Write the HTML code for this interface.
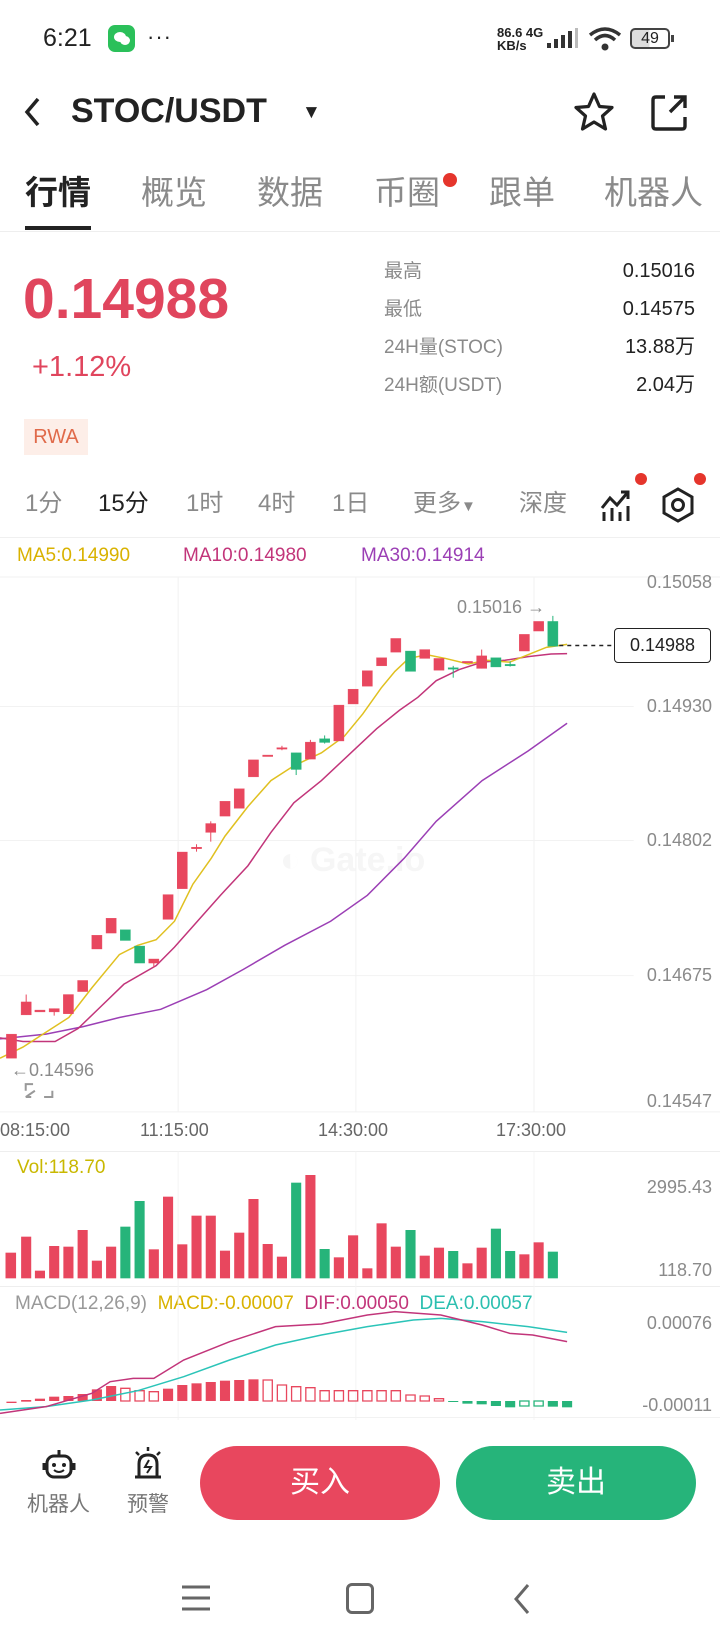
<!DOCTYPE html>
<html><head><meta charset="utf-8"><style>
*{margin:0;padding:0;box-sizing:border-box}
body{width:720px;height:1640px;background:#fff;position:relative;overflow:hidden;font-family:"Liberation Sans","Noto Sans CJK SC",sans-serif;color:#222}
.a{position:absolute;white-space:nowrap;line-height:1}
.g{color:#8a8a8a}
.yl{font-size:18px;color:#8a8a8a;right:8px;transform:translateY(-50%)}
</style></head><body>
<!-- status bar -->
<div class="a" style="left:43px;top:26px;font-size:25px;color:#222">6:21</div>
<div class="a" style="left:108px;top:25px;width:27px;height:27px;background:#2bc05a;border-radius:7px"></div>
<div class="a" style="left:114px;top:32px;width:12px;height:10px;background:#fff;border-radius:50%"></div>
<div class="a" style="left:120px;top:36px;width:10px;height:9px;background:#fff;border-radius:50%"></div>
<div class="a" style="left:147px;top:26px;font-size:22px;letter-spacing:1px">···</div>
<div class="a" style="left:497px;top:26px;font-size:13px;font-weight:bold;line-height:13px">86.6 4G<br>KB/s</div>
<svg class="a" style="left:545px;top:28px" width="36" height="22"><rect x="2" y="15" width="4" height="5" fill="#333"/><rect x="9" y="11" width="4" height="9" fill="#333"/><rect x="16" y="7" width="4" height="13" fill="#333"/><rect x="23" y="3" width="4" height="17" fill="#333"/><rect x="30" y="0" width="3" height="20" fill="#bbb"/></svg>
<svg class="a" style="left:588px;top:26px" width="34" height="26"><path d="M2 9 Q17 -3 32 9" stroke="#333" stroke-width="3.5" fill="none"/><path d="M7 14 Q17 5 27 14" stroke="#333" stroke-width="3.5" fill="none"/><circle cx="17" cy="21" r="3.5" fill="#333"/></svg>
<div class="a" style="left:630px;top:28px;width:40px;height:21px;border:2px solid #444;border-radius:5px;font-size:16px;text-align:center;line-height:17px;background:linear-gradient(90deg,#ddd 49%,#fff 49%)">49</div>
<div class="a" style="left:671px;top:35px;width:3px;height:7px;background:#444"></div>
<!-- header -->
<svg class="a" style="left:22px;top:96px" width="22" height="32"><path d="M16 3 L5 16 L16 29" stroke="#222" stroke-width="3.5" fill="none"/></svg>
<div class="a" style="left:71px;top:94px;font-size:34px;font-weight:bold">STOC/USDT</div>
<div class="a" style="left:302px;top:103px;font-size:19px">▼</div>
<svg class="a" style="left:572px;top:91px" width="44" height="42"><path d="M22 3 L27.5 15.5 L40 16.5 L30.5 25 L33.5 38 L22 31 L10.5 38 L13.5 25 L4 16.5 L16.5 15.5 Z" stroke="#222" stroke-width="3.2" fill="none" stroke-linejoin="round"/></svg>
<svg class="a" style="left:648px;top:92px" width="42" height="42"><path d="M17 5 H8 Q5 5 5 8 V34 Q5 37 8 37 H34 Q37 37 37 34 V25" stroke="#222" stroke-width="3.4" fill="none"/><path d="M22 20 L36 6 M26 5 H37 V16" stroke="#222" stroke-width="3.4" fill="none"/></svg>
<!-- tabs -->
<div class="a" style="left:25px;top:176px;font-size:33px;font-weight:bold;color:#222">行情</div>
<div class="a g" style="left:141px;top:176px;font-size:33px">概览</div>
<div class="a g" style="left:257px;top:176px;font-size:33px">数据</div>
<div class="a g" style="left:374px;top:176px;font-size:33px">币圈</div>
<div class="a" style="left:443px;top:173px;width:14px;height:14px;border-radius:50%;background:#e5352c"></div>
<div class="a g" style="left:489px;top:176px;font-size:33px">跟单</div>
<div class="a g" style="left:604px;top:176px;font-size:33px">机器人</div>
<div class="a" style="left:25px;top:226px;width:66px;height:4px;background:#222"></div>
<div class="a" style="left:0;top:231px;width:720px;height:1px;background:#eee"></div>
<!-- price -->
<div class="a" style="left:23px;top:271px;font-size:57px;font-weight:bold;color:#e0455d">0.14988</div>
<div class="a" style="left:32px;top:353px;font-size:29px;color:#e0455d">+1.12%</div>
<div class="a" style="left:24px;top:419px;width:64px;height:36px;background:#fdeee8;color:#e06a4a;font-size:20px;text-align:center;line-height:36px">RWA</div>
<div class="a g" style="left:384px;top:262px;font-size:19px">最高</div>
<div class="a g" style="left:384px;top:300px;font-size:19px">最低</div>
<div class="a g" style="left:384px;top:338px;font-size:19px">24H量(STOC)</div>
<div class="a g" style="left:384px;top:376px;font-size:19px">24H额(USDT)</div>
<div class="a" style="right:25px;top:261px;font-size:20px">0.15016</div>
<div class="a" style="right:25px;top:299px;font-size:20px">0.14575</div>
<div class="a" style="right:25px;top:337px;font-size:20px">13.88万</div>
<div class="a" style="right:25px;top:375px;font-size:20px">2.04万</div>
<!-- interval row -->
<div class="a g" style="left:25px;top:492px;font-size:24px">1分</div>
<div class="a" style="left:98px;top:492px;font-size:24px;color:#222">15分</div>
<div class="a g" style="left:186px;top:492px;font-size:24px">1时</div>
<div class="a g" style="left:258px;top:492px;font-size:24px">4时</div>
<div class="a g" style="left:332px;top:492px;font-size:24px">1日</div>
<div class="a g" style="left:413px;top:492px;font-size:24px">更多<span style="font-size:15px">▼</span></div>
<div class="a g" style="left:519px;top:492px;font-size:24px">深度</div>
<svg class="a" style="left:600px;top:488px" width="32" height="34"><path d="M2 20 L10 10 L17 17 L28 4 M21 4 H28 V11" stroke="#222" stroke-width="3" fill="none"/><path d="M4 24 V33 M12 20 V33 M20 24 V33 M28 18 V33" stroke="#222" stroke-width="3"/></svg>
<svg class="a" style="left:660px;top:487px" width="36" height="36"><path d="M18 2 L32 10 V26 L18 34 L4 26 V10 Z" stroke="#222" stroke-width="3" fill="none"/><circle cx="18" cy="18" r="5.5" stroke="#222" stroke-width="3" fill="none"/></svg>
<div class="a" style="left:635px;top:473px;width:12px;height:12px;border-radius:50%;background:#e5352c"></div>
<div class="a" style="left:694px;top:473px;width:12px;height:12px;border-radius:50%;background:#e5352c"></div>
<div class="a" style="left:0;top:537px;width:720px;height:1px;background:#f0f0f0"></div>
<!-- MA legend -->
<div class="a" style="left:17px;top:546px;font-size:19px;color:#d9b200">MA5:0.14990</div>
<div class="a" style="left:183px;top:546px;font-size:19px;color:#c2357a">MA10:0.14980</div>
<div class="a" style="left:361px;top:546px;font-size:19px;color:#9b3fb5">MA30:0.14914</div>
<!-- watermark -->
<div class="a" style="left:280px;top:843px;font-size:34px;color:#f6f6f6;font-weight:bold">◐ Gate.io</div>
<!-- main chart -->
<svg class="a" style="left:0;top:540px" width="720" height="580" viewBox="0 0 1568 1567" preserveAspectRatio="none">
<g stroke="#f2f2f2" stroke-width="1">
<line x1="0" y1="100" x2="1568" y2="100" vector-effect="non-scaling-stroke"/><line x1="0" y1="450" x2="1380" y2="450" vector-effect="non-scaling-stroke"/><line x1="0" y1="812" x2="1380" y2="812" vector-effect="non-scaling-stroke"/><line x1="0" y1="1177" x2="1380" y2="1177" vector-effect="non-scaling-stroke"/><line x1="0" y1="1545" x2="1568" y2="1545" vector-effect="non-scaling-stroke"/>
<line x1="388" y1="100" x2="388" y2="1545" vector-effect="non-scaling-stroke"/><line x1="775" y1="100" x2="775" y2="1545" vector-effect="non-scaling-stroke"/><line x1="1163" y1="100" x2="1163" y2="1545" vector-effect="non-scaling-stroke"/>
</g>
<g fill="none">
<polyline vector-effect="non-scaling-stroke" stroke="#9b3fb5" stroke-width="1.5" points="0,1348 100,1335 180,1315 260,1290 350,1268 450,1215 530,1160 620,1095 720,1030 800,960 880,860 950,760 1050,650 1150,570 1235,495"/>
<polyline vector-effect="non-scaling-stroke" stroke="#c2357a" stroke-width="1.5" points="0,1345 50,1355 120,1355 170,1320 220,1260 270,1200 340,1150 380,1100 430,1030 480,960 540,880 590,790 640,710 700,650 760,580 820,510 870,460 910,425 950,380 1000,350 1050,330 1100,325 1150,315 1200,308 1235,307"/>
<polyline vector-effect="non-scaling-stroke" stroke="#e0c020" stroke-width="1.5" points="0,1400 50,1370 100,1330 150,1290 200,1210 260,1120 300,1095 340,1080 380,1030 420,930 460,860 490,800 540,720 590,650 640,610 700,575 750,530 790,470 830,400 860,355 890,320 930,310 970,320 1020,335 1060,325 1110,330 1150,310 1190,290 1235,282"/>
</g>
<g fill="#e8475e" stroke="#e8475e">
<rect x="14" y="1335" width="22" height="65"/>
<line x1="57" y1="1228" x2="57" y2="1283" vector-effect="non-scaling-stroke"/><rect x="46" y="1248" width="22" height="35"/>
<rect x="76" y="1270" width="22" height="5"/>
<line x1="118" y1="1266" x2="118" y2="1285" vector-effect="non-scaling-stroke"/><rect x="107" y="1266" width="22" height="9"/>
<rect x="138" y="1228" width="22" height="52"/>
<rect x="169" y="1190" width="22" height="30"/>
<rect x="200" y="1068" width="22" height="37"/>
<rect x="231" y="1022" width="22" height="40"/>
<line x1="335" y1="1132" x2="335" y2="1155" vector-effect="non-scaling-stroke"/><rect x="324" y="1132" width="22" height="11"/>
<rect x="355" y="958" width="22" height="67"/>
<rect x="386" y="843" width="22" height="99"/>
<line x1="428" y1="822" x2="428" y2="842" vector-effect="non-scaling-stroke"/><rect x="417" y="830" width="22" height="4"/>
<line x1="459" y1="760" x2="459" y2="815" vector-effect="non-scaling-stroke"/><rect x="448" y="766" width="22" height="24"/>
<rect x="479" y="706" width="22" height="40"/>
<rect x="510" y="672" width="22" height="53"/>
<rect x="541" y="594" width="22" height="46"/>
<rect x="572" y="581" width="22" height="4"/>
<line x1="614" y1="556" x2="614" y2="568" vector-effect="non-scaling-stroke"/><rect x="603" y="561" width="22" height="4"/>
<line x1="676" y1="540" x2="676" y2="592" vector-effect="non-scaling-stroke"/><rect x="665" y="546" width="22" height="46"/>
<rect x="727" y="446" width="22" height="97"/>
<rect x="758" y="403" width="22" height="40"/>
<rect x="789" y="353" width="22" height="42"/>
<rect x="820" y="318" width="22" height="22"/>
<rect x="851" y="266" width="22" height="37"/>
<rect x="914" y="296" width="22" height="24"/>
<rect x="945" y="320" width="22" height="32"/>
<rect x="1007" y="328" width="22" height="4"/>
<line x1="1049" y1="296" x2="1049" y2="347" vector-effect="non-scaling-stroke"/><rect x="1038" y="313" width="22" height="34"/>
<rect x="1131" y="255" width="22" height="45"/>
<rect x="1162" y="220" width="22" height="26"/>
</g>
<g fill="#26b47a" stroke="#26b47a">
<rect x="262" y="1053" width="22" height="29"/>
<rect x="293" y="1097" width="22" height="46"/>
<line x1="645" y1="575" x2="645" y2="635" vector-effect="non-scaling-stroke"/><rect x="634" y="575" width="22" height="45"/>
<line x1="707" y1="528" x2="707" y2="550" vector-effect="non-scaling-stroke"/><rect x="696" y="537" width="22" height="10"/>
<rect x="883" y="300" width="22" height="55"/>
<line x1="987" y1="340" x2="987" y2="372" vector-effect="non-scaling-stroke"/><rect x="976" y="345" width="22" height="4"/>
<rect x="1069" y="318" width="22" height="25"/>
<line x1="1111" y1="328" x2="1111" y2="342" vector-effect="non-scaling-stroke"/><rect x="1100" y="336" width="22" height="4"/>
<line x1="1204" y1="205" x2="1204" y2="287" vector-effect="non-scaling-stroke"/><rect x="1193" y="220" width="22" height="67"/>
</g>
<line x1="1218" y1="285" x2="1335" y2="285" stroke="#222" stroke-width="1.5" stroke-dasharray="4 4" vector-effect="non-scaling-stroke"/>
<path d="M56 1488 V1470 H72 M114 1488 V1505 H96 M56 1505 L76 1488 M56 1505 H68" stroke="#999" stroke-width="2" fill="none" vector-effect="non-scaling-stroke"/>
</svg>
<div class="a" style="left:457px;top:598px;font-size:18px;color:#8a8a8a">0.15016 →</div>
<div class="a" style="left:11px;top:1061px;font-size:18px;color:#8a8a8a">←0.14596</div>
<div class="a" style="left:614px;top:628px;width:97px;height:35px;border:1.5px solid #222;border-radius:4px;background:#fff;font-size:18px;text-align:center;line-height:32px">0.14988</div>
<div class="a yl" style="top:582px">0.15058</div>
<div class="a yl" style="top:706px">0.14930</div>
<div class="a yl" style="top:840px">0.14802</div>
<div class="a yl" style="top:975px">0.14675</div>
<div class="a yl" style="top:1101px">0.14547</div>
<!-- x axis -->
<div class="a" style="left:0px;top:1121px;font-size:18px;color:#666">08:15:00</div>
<div class="a" style="left:140px;top:1121px;font-size:18px;color:#666">11:15:00</div>
<div class="a" style="left:318px;top:1121px;font-size:18px;color:#666">14:30:00</div>
<div class="a" style="left:496px;top:1121px;font-size:18px;color:#666">17:30:00</div>
<div class="a" style="left:0;top:1151px;width:720px;height:1px;background:#eee"></div>
<div class="a" style="left:17px;top:1158px;font-size:19px;color:#c9b800">Vol:118.70</div>
<div class="a yl" style="top:1187px">2995.43</div>
<div class="a yl" style="top:1270px">118.70</div>
<div class="a" style="left:0;top:1286px;width:720px;height:1px;background:#eee"></div>
<div class="a" style="left:15px;top:1294px;font-size:19px"><span style="color:#999">MACD(12,26,9)</span>&nbsp; <span style="color:#d9b200">MACD:-0.00007</span>&nbsp; <span style="color:#c2357a">DIF:0.00050</span>&nbsp; <span style="color:#2bbfb0">DEA:0.00057</span></div>
<div class="a yl" style="top:1323px">0.00076</div>
<div class="a yl" style="top:1405px">-0.00011</div>
<svg class="a" style="left:0;top:1120px" width="720" height="300" viewBox="0 0 1568 900" preserveAspectRatio="none">
<line x1="388" y1="95" x2="388" y2="900" stroke="#f4f4f4" vector-effect="non-scaling-stroke"/><line x1="775" y1="95" x2="775" y2="900" stroke="#f4f4f4" vector-effect="non-scaling-stroke"/><line x1="1163" y1="95" x2="1163" y2="900" stroke="#f4f4f4" vector-effect="non-scaling-stroke"/>
<g fill="#e8475e">
<rect x="12" y="398" width="23" height="77"/><rect x="46" y="350" width="22" height="125"/><rect x="76" y="452" width="22" height="23"/><rect x="107" y="378" width="22" height="97"/><rect x="138" y="380" width="22" height="95"/><rect x="169" y="330" width="22" height="145"/><rect x="200" y="422" width="22" height="53"/><rect x="231" y="380" width="22" height="95"/>
<rect x="324" y="388" width="22" height="87"/><rect x="355" y="230" width="22" height="245"/><rect x="386" y="373" width="22" height="102"/><rect x="417" y="287" width="22" height="188"/><rect x="448" y="287" width="22" height="188"/><rect x="479" y="392" width="22" height="83"/><rect x="510" y="338" width="22" height="137"/><rect x="541" y="237" width="22" height="238"/><rect x="572" y="372" width="22" height="103"/><rect x="603" y="410" width="22" height="65"/>
<rect x="665" y="165" width="22" height="310"/><rect x="727" y="412" width="22" height="63"/><rect x="758" y="346" width="22" height="129"/><rect x="789" y="445" width="22" height="30"/><rect x="820" y="310" width="22" height="165"/><rect x="851" y="380" width="22" height="95"/><rect x="914" y="407" width="22" height="68"/><rect x="945" y="383" width="22" height="92"/><rect x="1007" y="430" width="22" height="45"/><rect x="1038" y="383" width="22" height="92"/><rect x="1131" y="403" width="22" height="72"/><rect x="1162" y="367" width="22" height="108"/>
</g>
<g fill="#26b47a">
<rect x="262" y="320" width="22" height="155"/><rect x="293" y="243" width="22" height="232"/><rect x="634" y="188" width="22" height="287"/><rect x="696" y="387" width="22" height="88"/><rect x="883" y="330" width="22" height="145"/><rect x="976" y="393" width="22" height="82"/><rect x="1069" y="326" width="22" height="149"/><rect x="1100" y="393" width="22" height="82"/><rect x="1193" y="395" width="22" height="80"/>
</g>
<g fill="#e8475e">
<rect x="14" y="845" width="22" height="4"/><rect x="46" y="840" width="22" height="5"/><rect x="76" y="836" width="22" height="7"/><rect x="107" y="830" width="22" height="13"/><rect x="138" y="828" width="22" height="15"/><rect x="169" y="822" width="22" height="21"/><rect x="200" y="808" width="22" height="35"/><rect x="231" y="798" width="22" height="45"/>
<rect x="355" y="806" width="22" height="37"/><rect x="386" y="795" width="22" height="48"/><rect x="417" y="790" width="22" height="53"/><rect x="448" y="786" width="22" height="57"/><rect x="479" y="782" width="22" height="61"/><rect x="510" y="780" width="22" height="63"/><rect x="541" y="778" width="22" height="65"/>
</g>
<g fill="none" stroke="#e8475e" stroke-width="1.3">
<rect vector-effect="non-scaling-stroke" x="263" y="805" width="20" height="38"/><rect vector-effect="non-scaling-stroke" x="294" y="812" width="20" height="31"/><rect vector-effect="non-scaling-stroke" x="325" y="815" width="20" height="28"/>
<rect vector-effect="non-scaling-stroke" x="573" y="780" width="20" height="63"/><rect vector-effect="non-scaling-stroke" x="604" y="795" width="20" height="48"/><rect vector-effect="non-scaling-stroke" x="635" y="800" width="20" height="43"/><rect vector-effect="non-scaling-stroke" x="666" y="803" width="20" height="40"/><rect vector-effect="non-scaling-stroke" x="697" y="812" width="20" height="31"/><rect vector-effect="non-scaling-stroke" x="728" y="812" width="20" height="31"/><rect vector-effect="non-scaling-stroke" x="759" y="812" width="20" height="31"/><rect vector-effect="non-scaling-stroke" x="790" y="812" width="20" height="31"/><rect vector-effect="non-scaling-stroke" x="821" y="812" width="20" height="31"/><rect vector-effect="non-scaling-stroke" x="852" y="812" width="20" height="31"/><rect vector-effect="non-scaling-stroke" x="884" y="825" width="20" height="18"/><rect vector-effect="non-scaling-stroke" x="915" y="828" width="20" height="15"/><rect vector-effect="non-scaling-stroke" x="946" y="836" width="20" height="7"/>
</g>
<g fill="#26b47a">
<rect x="976" y="843" width="22" height="3"/><rect x="1007" y="843" width="22" height="8"/><rect x="1038" y="843" width="22" height="10"/><rect x="1069" y="843" width="22" height="15"/><rect x="1100" y="843" width="22" height="19"/><rect x="1193" y="843" width="22" height="17"/><rect x="1224" y="843" width="22" height="19"/>
</g>
<g fill="none" stroke="#26b47a" stroke-width="1.3"><rect vector-effect="non-scaling-stroke" x="1132" y="843" width="20" height="15"/><rect vector-effect="non-scaling-stroke" x="1163" y="843" width="20" height="15"/></g>
<polyline vector-effect="non-scaling-stroke" fill="none" stroke="#2bc4b8" stroke-width="1.5" points="0,870 100,860 200,840 300,812 400,770 500,720 600,675 700,645 800,620 900,600 960,595 1050,605 1150,620 1235,637"/>
<polyline vector-effect="non-scaling-stroke" fill="none" stroke="#c2357a" stroke-width="1.5" points="0,880 100,860 200,820 240,785 290,775 335,775 400,720 500,665 600,620 700,612 800,585 860,575 960,585 1050,615 1110,640 1160,645 1235,665"/>
</svg>
<div class="a" style="left:0;top:1417px;width:720px;height:1px;background:#f2f2f2"></div>
<!-- bottom actions -->
<svg class="a" style="left:42px;top:1449px" width="34" height="32"><rect x="5" y="7" width="24" height="21" rx="7" stroke="#222" stroke-width="3" fill="none"/><line x1="17" y1="1" x2="17" y2="7" stroke="#222" stroke-width="3"/><path d="M2 14 V21 M32 14 V21" stroke="#222" stroke-width="3"/><circle cx="12" cy="16" r="2" fill="#222"/><circle cx="22" cy="16" r="2" fill="#222"/><path d="M12 21 Q17 25 22 21" stroke="#222" stroke-width="2" fill="none"/></svg>
<svg class="a" style="left:132px;top:1446px" width="32" height="34"><path d="M7 31 V18 Q7 9 16 9 Q25 9 25 18 V31 Z M3 31 H29" stroke="#222" stroke-width="3" fill="none"/><path d="M17 14 L13 21 H19 L15 27" stroke="#222" stroke-width="2" fill="none"/><path d="M16 1 V5 M4 6 L7 9 M28 6 L25 9" stroke="#222" stroke-width="2.5"/></svg>
<div class="a g" style="left:27px;top:1494px;font-size:21px;color:#777">机器人</div>
<div class="a g" style="left:127px;top:1494px;font-size:21px;color:#777">预警</div>
<div class="a" style="left:200px;top:1446px;width:240px;height:74px;border-radius:37px;background:#e8475e;color:#fff;font-size:30px;text-align:center;line-height:74px">买入</div>
<div class="a" style="left:456px;top:1446px;width:240px;height:74px;border-radius:37px;background:#26b47a;color:#fff;font-size:30px;text-align:center;line-height:74px">卖出</div>
<!-- nav bar -->
<svg class="a" style="left:180px;top:1583px" width="32" height="30"><path d="M2 4 H30 M2 15 H30 M2 26 H30" stroke="#666" stroke-width="3"/></svg>
<div class="a" style="left:346px;top:1583px;width:28px;height:31px;border:3px solid #666;border-radius:6px"></div>
<svg class="a" style="left:510px;top:1582px" width="24" height="34"><path d="M18 3 L6 17 L18 31" stroke="#666" stroke-width="3" fill="none"/></svg>
</body></html>
